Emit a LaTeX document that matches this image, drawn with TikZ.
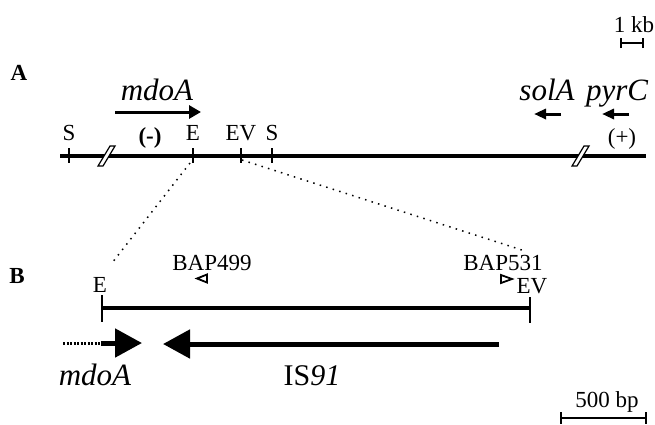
\documentclass[tikz,border=0pt]{standalone}
\usepackage{fontspec}
\setmainfont{Liberation Serif}
\usetikzlibrary{arrows.meta}
\begin{document}
\begin{tikzpicture}[x=1pt,y=-1pt,
  lbl/.style={font=\fontsize{23}{23}\selectfont, inner sep=0pt, anchor=base},
  panel/.style={font=\fontsize{23}{23}\selectfont\bfseries, inner sep=0pt, anchor=base},
  gene/.style={font=\fontsize{31}{31}\selectfont\itshape, inner sep=0pt, anchor=base},
  chrom/.style={line width=3.2pt},
  tick/.style={line width=2.5pt},
  zoomline/.style={line width=1.5pt, dash pattern=on 1.5pt off 5.3pt},
  smallarrow/.style={line width=3pt, -{Triangle[length=12pt,width=13pt]}},
  tinyarrow/.style={line width=3pt, -{Triangle[length=12pt,width=10pt]}},
  bigarrow/.style={line width=5pt, -{Triangle[length=27pt,width=28pt]}},
  primer/.style={line width=1.8pt, line join=miter},
  brk/.style={fill=white, draw=black, line width=1.2pt},
  scalebar/.style={line width=2.5pt}
]
\useasboundingbox (0,0) rectangle (655,424);

% ---- panel A ----
\node[panel] (pA) at (19,80) {A};
\coordinate (lA) at (60,156);
\coordinate (rA) at (646,156);
\draw[chrom] (lA) -- (rA);

\foreach \n/\x in {s1/69, e1/193, ev1/241, s2/272}{
  \coordinate (\n t) at (\x,148);
  \coordinate (\n b) at (\x,163);
  \draw[tick] (\n t) -- (\n b);
}
\node[lbl] (tS1) at (69,140) {S};
\node[lbl, font=\fontsize{23}{23}\selectfont\bfseries] (tMinus) at (150,143) {(-)};
\node[lbl] (tE1) at (193,140) {E};
\node[lbl] (tEV1) at (241,140) {EV};
\node[lbl] (tS2) at (272,140) {S};
\node[lbl] (tPlus) at (622,144) {(+)};

% break marks
\foreach \cx in {107,581}{
  \draw[brk] (\cx-9,166) -- (\cx+3,146) -- (\cx+8,146) -- (\cx-4,166) -- cycle;
}

% genes in A
\node[gene] (gMdoA) at (157,100) {mdoA};
\coordinate (mA1) at (115,112);
\coordinate (mA2) at (201,112);
\draw[smallarrow] (mA1) -- (mA2);

\node[gene] (gSolA) at (547,100) {solA};
\node[gene] (gPyrC) at (617,100) {pyrC};
\coordinate (sA1) at (561,114);
\coordinate (sA2) at (534,114);
\draw[tinyarrow] (sA1) -- (sA2);
\coordinate (pA1) at (629,114);
\coordinate (pA2) at (602,114);
\draw[tinyarrow] (pA1) -- (pA2);

% 1 kb scale
\node[lbl] (kb) at (634,32) {1 kb};
\coordinate (kb1) at (621,43);
\coordinate (kb2) at (643,43);
\draw[scalebar] (kb1) -- (kb2);
\draw[scalebar] ([yshift=-5pt]kb1) -- ([yshift=5pt]kb1);
\draw[scalebar] ([yshift=-5pt]kb2) -- ([yshift=5pt]kb2);

% ---- panel B ----
\node[panel] (pB) at (17,283) {B};
\coordinate (lB) at (102,308);
\coordinate (rB) at (530,308);
\draw[chrom] (lB) -- (rB);
\draw[tick] (102,295) -- (102,322);
\draw[tick] (530,297) -- (530,323);
\node[lbl] (tE2) at (100,292) {E};
\node[lbl] (tEV2) at (532,293) {EV};

% zoom lines
\coordinate (z1a) at (190,163);
\coordinate (z1b) at (112,263);
\draw[zoomline] (z1a) -- (z1b);
\coordinate (z2a) at (242,160);
\coordinate (z2b) at (525,251);
\draw[zoomline] (z2a) -- (z2b);

% primers
\node[lbl] (bap499) at (212,270) {BAP499};
\draw[primer] (197,278.5) -- (207,274.5) -- (207,282.5) -- cycle;
\node[lbl] (bap531) at (503,270) {BAP531};
\draw[primer] (512,279) -- (501,275) -- (501,283) -- cycle;

% mdoA and IS91
\coordinate (d0) at (63,343);
\coordinate (d1) at (101,343);
\coordinate (d2) at (142,343);
\draw[line width=3pt, dash pattern=on 2pt off 1.5pt] (d0) -- (d1);
\draw[bigarrow] (d1) -- (d2);
\node[gene] (gMdoB) at (95,385) {mdoA};

\coordinate (i1) at (499,344);
\coordinate (i2) at (163,344);
\draw[bigarrow] (i1) -- (i2);
\node[lbl, font=\fontsize{30}{30}\selectfont] (is91) at (312,385) {IS\textit{91}};

% 500 bp scale
\node[lbl] (bp) at (607,407) {500 bp};
\coordinate (bp1) at (561,418);
\coordinate (bp2) at (646,418);
\draw[scalebar] (bp1) -- (bp2);
\draw[scalebar] ([yshift=6pt]bp1) -- ([yshift=-6pt]bp1);
\draw[scalebar] ([yshift=6pt]bp2) -- ([yshift=-6pt]bp2);
\end{tikzpicture}
\end{document}
